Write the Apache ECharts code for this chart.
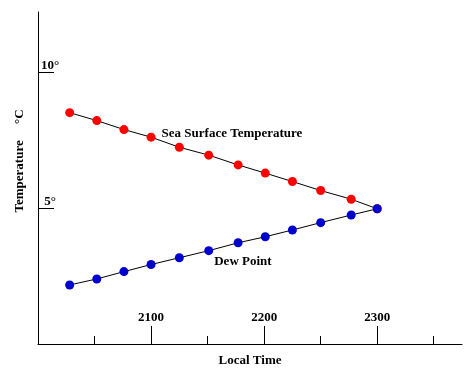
<!DOCTYPE html>
<html>
<head>
<meta charset="utf-8">
<script src="https://cdn.jsdelivr.net/npm/echarts@6/dist/echarts.min.js"></script>
<style>
  html, body { margin: 0; padding: 0; background: #fff; }
  #chart { width: 475px; height: 375px; }
</style>
</head>
<body>
<div id="chart"></div>
<script>
// local time (hhmm read as a number) of each reading
const times = [2028, 2052, 2076, 2100, 2125, 2151, 2177, 2201, 2225, 2250, 2277, 2300];
const seaSurfaceTemp = [8.50, 8.21, 7.88, 7.60, 7.23, 6.94, 6.58, 6.28, 5.97, 5.64, 5.32, 4.97];
const dewPoint = [2.17, 2.39, 2.66, 2.92, 3.17, 3.43, 3.72, 3.94, 4.19, 4.46, 4.74, 4.97];
const majorTimeTicks = [2100, 2200, 2300];
const minorTimeTicks = [2050, 2150, 2250, 2350];
const tempTicks = [5, 10];

const serif = "'Liberation Serif', 'Times New Roman', serif";
const majorTickLen = 18;

// label one point of each series with the series name
function withLabel(values, labelIndex, labelOpts) {
  return values.map((v, i) => {
    const item = { value: [times[i], v] };
    if (i === labelIndex) item.label = labelOpts;
    return item;
  });
}

// long hour ticks drawn up from the time axis
function renderMajorTick(params, api) {
  const p = api.coord([api.value(0), 0]);
  const x = Math.round(p[0]) + 0.5;
  return {
    type: "line",
    z2: 100,
    shape: { x1: x, y1: p[1], x2: x, y2: p[1] - majorTickLen },
    style: { stroke: "#000", lineWidth: 1 }
  };
}

const chart = echarts.init(document.getElementById("chart"));

const option = {
  backgroundColor: "#fff",
  animation: false,
  grid: { left: 38, right: 13, top: 12, bottom: 31 },
  xAxis: [
    {
      type: "value",
      min: 2000,
      max: 2375,
      name: "Local Time",
      nameLocation: "middle",
      nameGap: 10,
      nameTextStyle: { fontFamily: serif, fontWeight: "bold", fontSize: 13, color: "#000" },
      axisLine: { lineStyle: { color: "#000", width: 1 } },
      axisTick: { show: false },
      axisLabel: {
        inside: true,
        margin: 20,
        customValues: majorTimeTicks,
        formatter: v => String(v),
        fontFamily: serif,
        fontWeight: "bold",
        fontSize: 13,
        color: "#000"
      },
      splitLine: { show: false }
    },
    {
      // only carries the short ticks
      type: "value",
      min: 2000,
      max: 2375,
      position: "bottom",
      axisLine: { show: false },
      axisTick: { show: true, inside: true, length: 8, customValues: minorTimeTicks, lineStyle: { color: "#000" } },
      axisLabel: { show: false, customValues: minorTimeTicks },
      splitLine: { show: false }
    }
  ],
  yAxis: {
    type: "value",
    min: 0,
    max: 12.2,
    name: "Temperature     °C",
    nameLocation: "middle",
    nameRotate: 90,
    nameGap: 12,
    nameTextStyle: {
      fontFamily: serif, fontWeight: "bold", fontSize: 13, color: "#000",
      padding: [0, 0, 0, 34]
    },
    axisLine: { show: true, lineStyle: { color: "#000", width: 1 } },
    axisTick: { show: true, inside: true, length: 16, customValues: tempTicks, lineStyle: { color: "#000" } },
    axisLabel: {
      inside: true,
      margin: 3,
      customValues: tempTicks,
      verticalAlign: "bottom",
      align: "left",
      formatter: v => (v === 5 ? " " : "") + v + "°",
      fontFamily: serif,
      fontWeight: "bold",
      fontSize: 13,
      color: "#000"
    },
    splitLine: { show: false }
  },
  series: [
    {
      name: "Sea Surface Temperature",
      type: "line",
      symbol: "circle",
      symbolSize: 9,
      itemStyle: { color: "#ff0000" },
      lineStyle: { color: "#000", width: 1 },
      data: withLabel(seaSurfaceTemp, 3, {
        show: true,
        position: "right",
        distance: 6,
        offset: [0, -4],
        formatter: "Sea Surface Temperature",
        fontFamily: serif,
        fontWeight: "bold",
        fontSize: 13,
        color: "#000"
      })
    },
    {
      name: "Dew Point",
      type: "line",
      symbol: "circle",
      symbolSize: 9,
      itemStyle: { color: "#0000cc" },
      lineStyle: { color: "#000", width: 1 },
      data: withLabel(dewPoint, 5, {
        show: true,
        position: "right",
        distance: 1,
        offset: [0, 11],
        formatter: "Dew Point",
        fontFamily: serif,
        fontWeight: "bold",
        fontSize: 13,
        color: "#000"
      })
    },
    {
      name: "hour ticks",
      type: "custom",
      z: 100,
      silent: true,
      clip: false,
      renderItem: renderMajorTick,
      data: majorTimeTicks.map(t => [t, 0])
    }
  ]
};

chart.setOption(option);
</script>
</body>
</html>
